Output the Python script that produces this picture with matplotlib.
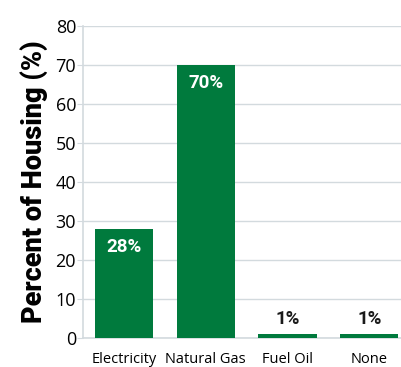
import matplotlib
matplotlib.use("Agg")
import matplotlib.pyplot as plt

categories = ["Electricity", "Natural Gas", "Fuel Oil", "None"]
values = [28, 70, 1, 1]
labels = ["28%", "70%", "1%", "1%"]
yticks = [0, 10, 20, 30, 40, 50, 60, 70, 80]

green = "#007A3D"
gridc = "#D3DADE"

fig = plt.figure(figsize=(4.02, 3.67), dpi=100)
ax = fig.add_axes([0.2065, 0.079, 0.7935, 0.85])
x = list(range(len(categories)))
ax.bar(x, values, width=0.71, color=green, zorder=3)
ax.set_xlim(-0.5, 3.4)
ax.set_ylim(0, 80)
ax.set_yticks(yticks)
ax.set_yticklabels([str(v) for v in yticks], fontfamily="Open Sans", fontsize=13)
ax.set_xticks(x)
ax.set_xticklabels(categories, fontfamily="Open Sans", fontsize=10.5)
ax.tick_params(axis="x", length=0, pad=10)
ax.tick_params(axis="y", length=4, color=gridc, pad=1)
ax.yaxis.grid(True, color=gridc, linewidth=1, zorder=0)
for s in ["top", "right"]:
    ax.spines[s].set_visible(False)
for s in ["left", "bottom"]:
    ax.spines[s].set_color(gridc)
    ax.spines[s].set_linewidth(1.2)
ax.set_ylabel("Percent of Housing (%)", fontfamily="Roboto", fontweight="black", fontsize=19.5, labelpad=5)

for xi, v, lab in zip(x, values, labels):
    if v > 10:
        ax.text(xi, v - 2.3, lab, ha="center", va="top", color="white", fontweight="bold",
                fontfamily="Roboto", fontsize=13.5, zorder=4)
    else:
        ax.text(xi, v + 1.6, lab, ha="center", va="bottom", color="#1a1a1a", fontweight="bold",
                fontfamily="Roboto", fontsize=13.5, zorder=4)

fig.savefig("out.png", dpi=100)
